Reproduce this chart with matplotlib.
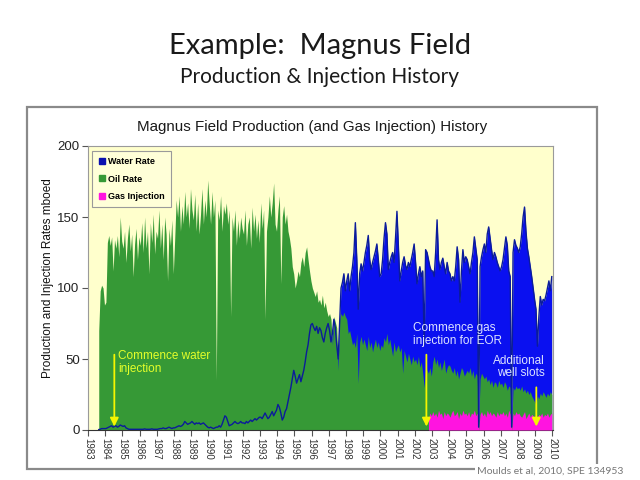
import numpy as np
import matplotlib
matplotlib.use("Agg")
import matplotlib.pyplot as plt
from matplotlib.lines import Line2D
from matplotlib.patches import Rectangle

# ---------------- data (monthly, mboed) ----------------
years = list(range(1983, 2011))
oil_start = 1983 + 7 / 12      # Aug 1983
oil_rate = [
    70, 98, 102, 100, 88,                                         # 1983 Aug-Dec
    90, 132, 137, 130, 136, 112, 134, 128, 137, 122, 150, 133,    # 1984
    128, 140, 118, 135, 145, 126, 138, 108, 131, 142, 120, 136,   # 1985
    130, 146, 125, 150, 128, 140, 110, 146, 132, 152, 124, 140,   # 1986
    135, 155, 128, 145, 120, 150, 138, 105, 142, 130, 148, 110,   # 1987
    135, 162, 150, 165, 140, 158, 145, 168, 150, 160, 142, 170,   # 1988
    155, 148, 166, 140, 160, 138, 152, 170, 145, 162, 150, 176,   # 1989
    160, 145, 168, 150, 162, 35, 155, 148, 165, 140, 158, 152,    # 1990
    160, 145, 155, 80, 150, 140, 155, 130, 148, 135, 150, 142,    # 1991
    138, 155, 130, 145, 150, 128, 157, 140, 152, 135, 148, 132,   # 1992
    160, 142, 155, 78, 140, 150, 165, 150, 160, 174, 145, 140,    # 1993
    155, 165, 103, 150, 158, 145, 152, 140, 135, 128, 115, 110,   # 1994
    100, 105, 112, 108, 118, 122, 115, 125, 129, 120, 112, 105,   # 1995
    100, 97, 94, 98, 90, 92, 88, 95, 86, 90, 84, 80,              # 1996
    82, 78, 60, 80, 76, 72, 42, 78, 82, 80, 83, 80,               # 1997
    78, 68, 70, 65, 60, 62, 58, 68, 33, 62, 66, 60,               # 1998
    64, 60, 56, 66, 58, 62, 55, 60, 64, 58, 62, 56,               # 1999
    60, 58, 65, 62, 68, 60, 64, 58, 52, 62, 55, 58,               # 2000
    60, 55, 58, 40, 56, 52, 48, 54, 50, 46, 52, 48,               # 2001
    50, 46, 52, 44, 48, 40, 30, 45, 42, 40, 44, 38,               # 2002
    48, 52, 46, 50, 44, 48, 42, 46, 50, 40, 44, 46,               # 2003
    45, 42, 40, 44, 38, 42, 36, 40, 44, 42, 38, 40,               # 2004
    42, 40, 44, 38, 42, 36, 40, 38, 3, 36, 40, 38,                # 2005
    36, 38, 34, 36, 32, 35, 30, 34, 33, 30, 35, 32,               # 2006
    33, 30, 34, 32, 28, 31, 30, 2, 30, 28, 31, 29,                # 2007
    30, 28, 31, 27, 29, 26, 28, 25, 27, 24, 22, 20,               # 2008
    18, 24, 22, 26, 24, 27, 25, 23, 26, 24, 27, 25,               # 2009
]
water_rate = [
    0.3, 0.5, 1, 1, 1,                                            # 1983 Aug-Dec
    1, 1.5, 2, 2.5, 3, 2, 2.5, 3, 2, 2.5, 3.5, 3,                 # 1984
    2.5, 3, 1.5, 1, 0.5, 0.5, 0.5, 0.5, 0.5, 0.5, 0.5, 0.5,       # 1985
    0.5, 0.5, 0.5, 0.8, 0.5, 0.5, 0.5, 0.5, 0.8, 0.5, 0.5, 0.5,   # 1986
    0.5, 0.8, 1, 1, 1.5, 1, 1, 1.5, 2, 1.5, 1, 1.5,               # 1987
    1.5, 2, 2.5, 3, 2.5, 3, 4, 6, 5, 4, 4.5, 5,                   # 1988
    6, 5, 4, 5, 4.5, 5, 4, 4.5, 5, 4, 3, 2,                       # 1989
    1.5, 2, 1.5, 1, 1.5, 2, 2, 3, 2, 4, 7, 10,                    # 1990
    9, 6, 3, 3.5, 4, 5, 6, 5, 4.5, 5, 6, 5,                       # 1991
    5, 4.5, 6, 5, 6, 7, 6, 7, 8, 7, 8, 9,                         # 1992
    9, 8, 10, 12, 10, 8, 9, 11, 13, 10, 12, 14,                   # 1993
    18, 16, 12, 7, 9, 13, 15, 20, 25, 30, 36, 42,                 # 1994
    38, 33, 36, 39, 34, 38, 42, 48, 55, 60, 68, 74,               # 1995
    75, 72, 70, 73, 68, 72, 70, 65, 62, 68, 72, 75,               # 1996
    70, 62, 68, 78, 72, 60, 50, 75, 100, 104, 110, 98,            # 1997
    105, 110, 98, 108, 115, 125, 146, 120, 85, 110, 117, 112,     # 1998
    118, 125, 130, 137, 120, 113, 118, 122, 126, 131, 120, 108,   # 1999
    110, 120, 135, 146, 138, 113, 118, 122, 125, 118, 135, 154,   # 2000
    130, 105, 112, 118, 122, 116, 113, 118, 115, 120, 125, 131,   # 2001
    118, 103, 110, 115, 108, 112, 60, 127, 125, 120, 115, 112,    # 2002
    112, 108, 125, 148, 120, 113, 118, 121, 115, 110, 118, 112,   # 2003
    110, 105, 108, 105, 115, 129, 120, 90, 112, 127, 118, 122,    # 2004
    120, 115, 110, 118, 125, 136, 128, 120, 2, 115, 122, 127,     # 2005
    131, 125, 138, 143, 135, 127, 120, 125, 122, 118, 115, 112,   # 2006
    115, 120, 128, 136, 130, 112, 108, 2, 125, 134, 130, 128,     # 2007
    125, 129, 138, 150, 157, 140, 128, 122, 115, 108, 100, 92,    # 2008
    85, 59, 80, 94, 88, 92, 91, 95, 100, 105, 98, 108,            # 2009
]
gas_start = 2002 + 9 / 12      # Oct 2002
gas_injection = [
    8, 12, 10,                                                    # 2002 Oct-Dec
    13, 10, 12, 9, 14, 11, 12, 8, 13, 10, 12, 11,                 # 2003
    9, 12, 14, 10, 11, 13, 8, 12, 10, 14, 11, 12,                 # 2004
    10, 13, 9, 12, 11, 14, 10, 12, 0, 11, 13, 10,                 # 2005
    12, 9, 14, 11, 13, 10, 12, 11, 9, 13, 10, 12,                 # 2006
    11, 13, 10, 12, 9, 14, 11, 0, 12, 10, 13, 11,                 # 2007
    12, 10, 9, 11, 13, 8, 10, 12, 9, 11, 10, 7,                   # 2008
    5, 9, 11, 10, 12, 9, 11, 10, 12, 9, 11, 12,                   # 2009
]
yticks = [0, 50, 100, 150, 200]

# ---------------- figure ----------------
fig = plt.figure(figsize=(6.4, 4.8), dpi=100)
fig.patch.set_facecolor("white")

fig.text(0.5, 1 - 46 / 480, "Example:  Magnus Field", ha="center", va="center",
         fontsize=21, family="Lato", color="#1a1a1a")
fig.text(0.5, 1 - 77 / 480, "Production & Injection History", ha="center", va="center",
         fontsize=15, family="Lato", color="#1a1a1a")

# outer chart frame
fig.patches.append(Rectangle((27 / 640, 1 - 469 / 480), 570 / 640, 362 / 480,
                             transform=fig.transFigure, fill=False,
                             edgecolor="#8a8a8a", linewidth=1.6, zorder=0))
fig.text(312 / 640, 1 - 127 / 480, "Magnus Field Production (and Gas Injection) History",
         ha="center", va="center", fontsize=10.9, family="Liberation Sans", color="#1a1a1a")
fig.text(623 / 640, 1 - 471 / 480, "Moulds et al, 2010, SPE 134953", ha="right", va="center",
         fontsize=7.5, family="Lato", color="#777777",
         bbox=dict(facecolor="white", edgecolor="none", pad=1.5))

ax = fig.add_axes([88 / 640, 1 - 430 / 480, 465 / 640, 284 / 480])
ax.set_facecolor("#FFFFCC")

x_oil = oil_start + (np.arange(len(oil_rate)) + 0.5) / 12
x_gas = gas_start + (np.arange(len(gas_injection)) + 0.5) / 12

ax.fill_between(x_oil, 0, water_rate, color="#0A10F0", lw=0, zorder=1)
ax.fill_between(x_oil, 0, oil_rate, color="#369936", lw=0, zorder=2)
ax.fill_between(x_gas, 0, gas_injection, color="#FF14E0", lw=0, zorder=3)
ax.plot(x_oil, water_rate, color="#0B1C9A", lw=1.0, zorder=4)

ax.set_xlim(1983, 2010.03)
ax.set_ylim(0, 200)
ax.set_xticks(years)
ax.set_xticklabels([str(y) for y in years], rotation=-90, fontsize=7,
                   family="Liberation Sans", color="#333333")
ax.set_yticks(yticks)
ax.set_yticklabels([str(v) for v in yticks], fontsize=9.5,
                   family="Liberation Sans", color="#222222")
ax.tick_params(axis="both", length=4, width=0.8, color="#555555", direction="out", pad=2)
for s in ["top", "right"]:
    ax.spines[s].set_color("#9a9a9a")
    ax.spines[s].set_linewidth(0.8)
ax.spines["left"].set_color("#9a9a9a")
ax.spines["bottom"].set_color("#333333")

fig.text(48 / 640, 1 - 278 / 480, "Production and Injection Rates mboed", rotation=90,
         ha="center", va="center", fontsize=8.5, family="Liberation Sans", color="#111111")

# legend
handles = [Line2D([], [], marker="s", ls="none", color=c, markersize=4.5)
           for c in ["#0A10B0", "#369936", "#FF14E0"]]
leg = ax.legend(handles, ["Water Rate", "Oil Rate", "Gas Injection"],
                loc="upper left", bbox_to_anchor=(0.004, 0.99),
                prop={"weight": "bold", "size": 6.5, "family": "Liberation Sans"},
                frameon=True, fancybox=False, framealpha=1, edgecolor="#9a9a9a",
                facecolor="#FFFFD8", handletextpad=0.1, handlelength=1.0,
                labelspacing=0.95, borderpad=0.7, borderaxespad=0.2)
leg.get_frame().set_linewidth(0.8)
leg.set_zorder(10)

arrow_kw = dict(arrowstyle="-|>,head_width=0.25,head_length=0.5", color="#F5F500", lw=1.3)
ax.annotate("", xy=(1984.53, 0.5), xytext=(1984.53, 55), arrowprops=arrow_kw, zorder=6)
ax.text(1984.75, 56, "Commence water\ninjection", ha="left", va="top", fontsize=8.5,
        family="Liberation Sans", color="#E4FF2A", linespacing=1.05, zorder=6)

ax.annotate("", xy=(2002.67, 0.5), xytext=(2002.67, 55), arrowprops=arrow_kw, zorder=6)
ax.text(2001.92, 76, "Commence gas\ninjection for EOR", ha="left", va="top", fontsize=8.5,
        family="Liberation Sans", color="#DCE2FF", linespacing=1.05, zorder=6)

ax.annotate("", xy=(2009.06, 0.5), xytext=(2009.06, 32), arrowprops=arrow_kw, zorder=6)
ax.text(2009.54, 53, "Additional\nwell slots", ha="right", va="top", fontsize=8.5,
        family="Liberation Sans", color="#DCE2FF", linespacing=1.05, zorder=6)

fig.savefig("out.png", dpi=100)
